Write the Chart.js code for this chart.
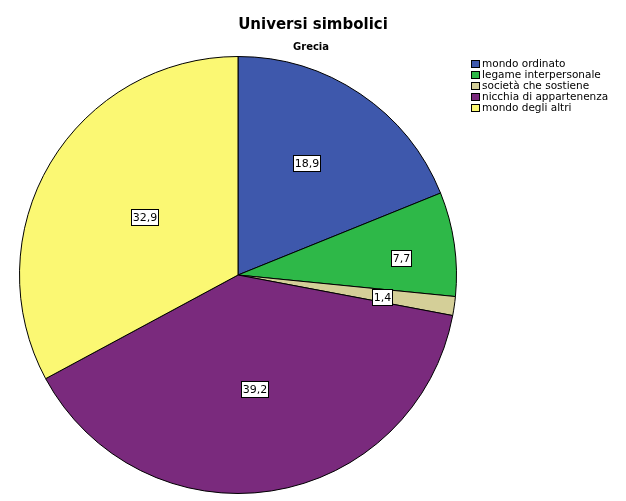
<!DOCTYPE html>
<html>
<head>
<meta charset="utf-8">
<script src="https://cdn.jsdelivr.net/npm/chart.js@4.4.1/dist/chart.umd.min.js"></script>
<style>
  html, body { margin: 0; padding: 0; background: #fff; }
  #wrap { width: 626px; height: 501px; position: relative; }
</style>
</head>
<body>
<div id="wrap"><canvas id="chart" width="626" height="501"></canvas></div>
<script>
// categories and percentages
const categories = ['mondo ordinato', 'legame interpersonale', 'società che sostiene', 'nicchia di appartenenza', 'mondo degli altri'];
const percentages = [18.9, 7.7, 1.4, 39.2, 32.9];
const chartTitle = 'Universi simbolici';
const chartSubtitle = 'Grecia';

const sliceColors = ['#3e58ac', '#2eb848', '#d4cf98', '#7a2a7d', '#fbf873'];

// title, subtitle and a small legend at the top right
const decorations = {
  id: 'decorations',
  afterDraw(chart) {
    const ctx = chart.ctx;
    ctx.save();
    ctx.fillStyle = '#000';
    ctx.textAlign = 'center';
    ctx.textBaseline = 'alphabetic';
    ctx.font = 'bold 15px "DejaVu Sans"';
    ctx.fillText(chartTitle, 313, 29);
    ctx.font = 'bold 10px "DejaVu Sans"';
    ctx.fillText(chartSubtitle, 311, 50);

    ctx.textAlign = 'left';
    ctx.textBaseline = 'middle';
    ctx.font = '10.5px "DejaVu Sans"';
    categories.forEach((c, i) => {
      const y = 64 + i * 11;
      ctx.fillStyle = sliceColors[i];
      ctx.fillRect(471, y - 4, 9, 8);
      ctx.strokeStyle = '#000';
      ctx.lineWidth = 1;
      ctx.strokeRect(471.5, y - 3.5, 8, 7);
      ctx.fillStyle = '#000';
      ctx.fillText(c, 482, y + 0.5);
    });
    ctx.restore();
  }
};

// boxed value labels inside the slices
const sliceLabels = {
  id: 'sliceLabels',
  afterDatasetsDraw(chart, args, opts) {
    const ctx = chart.ctx;
    const meta = chart.getDatasetMeta(0);
    ctx.save();
    ctx.font = '11px "DejaVu Sans"';
    ctx.textAlign = 'center';
    ctx.textBaseline = 'middle';
    meta.data.forEach((arc, i) => {
      const p = arc.getProps(['x', 'y', 'startAngle', 'endAngle', 'outerRadius'], true);
      const mid = (p.startAngle + p.endAngle) / 2 + opts.turn[i];
      const r = p.outerRadius * opts.radius[i];
      const x = p.x + Math.cos(mid) * r;
      const y = p.y + Math.sin(mid) * r;
      const txt = percentages[i].toFixed(1).replace('.', ',');
      const w = Math.round(ctx.measureText(txt).width + 4);
      const h = 17;
      const bx = Math.round(x - w / 2), by = Math.round(y - h / 2);
      ctx.fillStyle = '#fff';
      ctx.fillRect(bx, by, w, h);
      ctx.strokeStyle = '#000';
      ctx.lineWidth = 1;
      ctx.strokeRect(bx + 0.5, by + 0.5, w - 1, h - 1);
      ctx.fillStyle = '#000';
      ctx.fillText(txt, bx + w / 2, by + h / 2 + 0.5);
    });
    ctx.restore();
  }
};

new Chart(document.getElementById('chart'), {
  type: 'pie',
  data: {
    labels: categories,
    datasets: [{
      data: percentages,
      backgroundColor: sliceColors,
      borderColor: '#000',
      borderWidth: 1
    }]
  },
  options: {
    responsive: false,
    animation: false,
    layout: { padding: { left: 18, right: 168, top: 56, bottom: 7 } },
    plugins: {
      legend: { display: false },
      tooltip: { enabled: false },
      sliceLabels: {
        radius: [0.6, 0.75, 0.67, 0.53, 0.5],
        turn: [-0.04, 0.045, 0.01, 0.01, 0.02]
      }
    }
  },
  plugins: [sliceLabels, decorations]
});
</script>
</body>
</html>
